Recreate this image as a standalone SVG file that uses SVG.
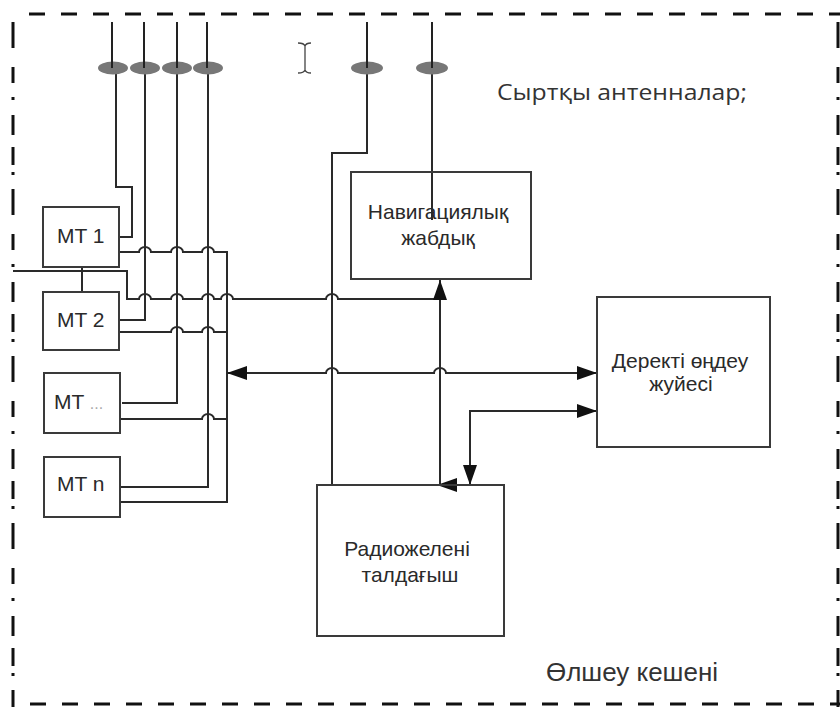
<svg xmlns="http://www.w3.org/2000/svg" width="840" height="707" viewBox="0 0 840 707">
<style>
.wire{fill:none;stroke:#2a2a2a;stroke-width:2}
.box{fill:#fff;stroke:#3a3a3a;stroke-width:2}
.lbl{font-family:"Liberation Sans",Arial,sans-serif;font-size:21px;fill:#2a2a2a}
.ant{fill:#777}
.border{fill:none;stroke:#111;stroke-width:3}
</style>
<defs>
<marker id="ah" markerUnits="userSpaceOnUse" markerWidth="20" markerHeight="14" refX="20" refY="7" orient="auto-start-reverse">
<path d="M0 0 L20 7 L0 14 z" fill="#111"/>
</marker>
</defs>
<g id="frame">
<line class="border" x1="29" y1="14" x2="840" y2="14" stroke-dasharray="16 16"/>
<line class="border" x1="30" y1="704" x2="840" y2="704" stroke-dasharray="16 16"/>
<line class="border" x1="13" y1="22" x2="13" y2="707" stroke-dasharray="26 19 16 14 3 15 20 12 18 7 3 14"/>
<line class="border" x1="838" y1="22" x2="838" y2="707" stroke-dasharray="26 19 16 14 3 15 20 12 18 7 3 14"/>
</g>
<g id="connectors">
<path class="wire" d="M116 68V187H132V237H115"/>
<path class="wire" d="M145 68V320H120"/>
<path class="wire" d="M177 68V403H122"/>
<path class="wire" d="M208 68V487H120"/>
<path class="wire" d="M367 68V153H332V485H358"/>
<path class="wire" d="M432 22V220"/>
<path class="wire" d="M120 252H139A6 5 0 0 1 151 252H171A6 5 0 0 1 183 252H202A6 5 0 0 1 214 252H227V502H120"/>
<path class="wire" d="M13 271H127V299H139A6 5 0 0 1 151 299H171A6 5 0 0 1 183 299H202A6 5 0 0 1 214 299H221A6 5 0 0 1 233 299H326A6 5 0 0 1 338 299H440"/>
<path class="wire" d="M82 267V292"/>
<path class="wire" d="M120 332H171A6 5 0 0 1 183 332H202A6 5 0 0 1 214 332H227"/>
<path class="wire" d="M120 419H202A6 5 0 0 1 214 419H227"/>
<path class="wire" d="M227 373H326A6 5 0 0 1 338 373H434A6 5 0 0 1 446 373H597" marker-start="url(#ah)" marker-end="url(#ah)"/>
<path class="wire" d="M440 485V280" marker-end="url(#ah)"/>
<path class="wire" d="M597 411H470V485" marker-start="url(#ah)" marker-end="url(#ah)"/>
<polygon points="437,485 457,478 457,492" fill="#111"/>
</g>
<g id="antennas">
<ellipse class="ant" cx="113" cy="68" rx="15" ry="6.5"/>
<ellipse class="ant" cx="145" cy="68" rx="15" ry="6.5"/>
<ellipse class="ant" cx="177" cy="68" rx="15" ry="6.5"/>
<ellipse class="ant" cx="208" cy="68" rx="15" ry="6.5"/>
<ellipse class="ant" cx="367" cy="68" rx="16" ry="6.5"/>
<ellipse class="ant" cx="432" cy="68" rx="16" ry="6.5"/>
<path d="M112 22V68M144 22V68M177 22V68M207 22V68M367 22V68M432 22V68" stroke="#222" stroke-width="2"/>
</g>
<g id="cursor" fill="none" stroke="#444" stroke-width="1.3">
<path d="M298 43Q304 43 305 46Q306 43 311 43M305 46V70M298 73Q304 73 305 70Q306 73 311 73"/>
</g>
<g id="mt1"><rect class="box" x="43" y="207" width="76" height="60"/><text class="lbl" x="57" y="243">MT 1</text></g>
<g id="mt2"><rect class="box" x="43" y="292" width="76" height="58"/><text class="lbl" x="57" y="327">MT 2</text></g>
<g id="mt3"><rect class="box" x="44" y="373" width="76" height="60"/><text class="lbl" x="54" y="409">MT <tspan fill="#aaa" font-size="16">...</tspan></text></g>
<g id="mtn"><rect class="box" x="44" y="457" width="76" height="60"/><text class="lbl" x="57" y="491">MT n</text></g>
<g id="nav"><rect class="box" x="351" y="172" width="180" height="107" style="fill:none"/><text class="lbl" text-anchor="middle" x="438" y="219">Навигациялық</text><text class="lbl" text-anchor="middle" x="438" y="245">жабдық</text></g>
<g id="data"><rect class="box" x="597" y="297" width="173" height="150"/><text class="lbl" text-anchor="middle" x="680" y="368">Деректі өңдеу</text><text class="lbl" text-anchor="middle" x="681" y="391">жуйесі</text></g>
<g id="radio"><rect class="box" x="317" y="485" width="187" height="151" style="fill:none"/><text class="lbl" text-anchor="middle" x="407" y="556">Радиожелені</text><text class="lbl" text-anchor="middle" x="410" y="582">талдағыш</text></g>
<text x="497" y="100" font-family="'Open Sans',sans-serif" font-size="22" fill="#333" textLength="250" lengthAdjust="spacingAndGlyphs">Сыртқы антенналар;</text>
<text x="546" y="681" font-family="'Liberation Sans',Arial,sans-serif" font-size="25" fill="#333" textLength="172" lengthAdjust="spacingAndGlyphs">Өлшеу кешені</text>
</svg>
